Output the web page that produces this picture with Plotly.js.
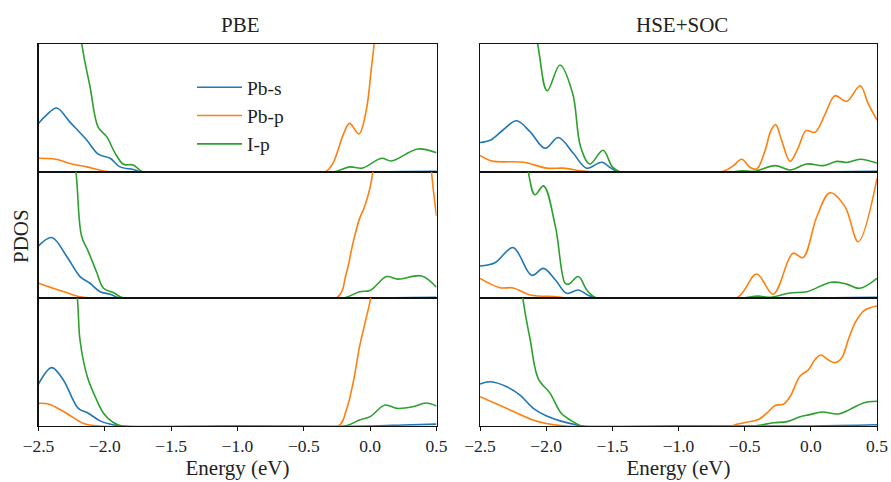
<!DOCTYPE html>
<html>
<head>
<meta charset="utf-8">
<script src="https://cdn.plot.ly/plotly-3.0.1.min.js"></script>
<style>html,body{margin:0;padding:0;background:#fff;}#chart{width:891px;height:482px;}</style>
</head>
<body>
<div id="chart"></div>
<script>
// ---------- data (energies in eV, PDOS in arbitrary units per panel) ----------
const columnTitles = ["PBE", "HSE+SOC"];
const seriesNames = ["Pb-s", "Pb-p", "I-p"];
const tickValues = [-2.5, -2.0, -1.5, -1.0, -0.5, 0.0, 0.5];
const tickLabels = ["\u22122.5", "\u22122.0", "\u22121.5", "\u22121.0", "\u22120.5", "0.0", "0.5"];

// PBE, top panel
const pbe1_s_E = [-2.5, -2.44, -2.363, -2.263, -2.137, -2.05, -1.96, -1.886, -1.786, -1.72, -1.0, 0.0, 0.3, 0.5];
const pbe1_s_V = [0.38, 0.445, 0.50, 0.39, 0.25, 0.14, 0.107, 0.04, 0.02, 0, 0, 0, 0.004, 0.006];
const pbe1_p_E = [-2.5, -2.37, -2.263, -2.137, -2.04, -1.94, -1.0, -0.34, -0.28, -0.2, -0.155, -0.085, -0.03, 0.01, 0.03, 0.08, 0.5];
const pbe1_p_V = [0.107, 0.10, 0.067, 0.04, 0.015, 0, 0, 0, 0.07, 0.30, 0.38, 0.297, 0.48, 0.82, 1.0, 1.6, 4.0];
const pbe1_g_E = [-2.5, -2.174, -2.112, -2.05, -1.986, -1.924, -1.86, -1.786, -1.71, -1.0, -0.28, -0.155, -0.06, 0.086, 0.16, 0.36, 0.5];
const pbe1_g_V = [4.0, 1.0, 0.67, 0.35, 0.276, 0.15, 0.06, 0.055, 0, 0, 0, 0.04, 0.03, 0.107, 0.086, 0.18, 0.15];

// PBE, middle panel
const pbe2_s_E = [-2.5, -2.40, -2.287, -2.187, -2.112, -2.036, -1.96, -1.885, -1.0, 0.0, 0.5];
const pbe2_s_V = [0.413, 0.48, 0.33, 0.17, 0.117, 0.05, 0.03, 0, 0, 0, 0.005];
const pbe2_p_E = [-2.5, -2.39, -2.29, -2.187, -2.1, -1.0, -0.253, -0.18, -0.13, -0.08, -0.042, 0.0, 0.02, 0.1, 0.3, 0.45, 0.463, 0.5];
const pbe2_p_V = [0.117, 0.077, 0.043, 0.01, 0, 0, 0, 0.196, 0.434, 0.63, 0.725, 0.88, 1.0, 1.6, 2.0, 1.3, 1.0, 0.65];
const pbe2_g_E = [-2.5, -2.217, -2.175, -2.125, -2.06, -2.01, -1.93, -1.86, -1.0, -0.2, -0.08, 0.0, 0.124, 0.21, 0.388, 0.5];
const pbe2_g_V = [4.0, 1.0, 0.49, 0.37, 0.2, 0.077, 0.04, 0, 0, 0, 0.05, 0.06, 0.17, 0.15, 0.175, 0.085];

// PBE, bottom panel
const pbe3_s_E = [-2.5, -2.40, -2.313, -2.2, -2.125, -2.036, -1.94, -1.87, -1.0, 0.0, 0.25, 0.5];
const pbe3_s_V = [0.328, 0.456, 0.36, 0.138, 0.1, 0.04, 0.01, 0, 0, 0, 0.008, 0.015];
const pbe3_p_E = [-2.5, -2.42, -2.29, -2.16, -2.04, -1.0, -0.24, -0.18, -0.13, -0.08, -0.04, 0.0, 0.05, 0.5];
const pbe3_p_V = [0.177, 0.17, 0.1, 0.02, 0, 0, 0, 0.125, 0.33, 0.62, 0.80, 0.98, 1.3, 3.0];
const pbe3_g_E = [-2.5, -2.207, -2.187, -2.132, -2.06, -2.01, -1.94, -1.87, -1.0, -0.19, -0.08, 0.0, 0.111, 0.2, 0.32, 0.42, 0.5];
const pbe3_g_V = [4.0, 1.0, 0.67, 0.385, 0.2, 0.1, 0.03, 0, 0, 0, 0.047, 0.073, 0.164, 0.138, 0.15, 0.18, 0.157];

// HSE+SOC, top panel
const hse1_s_E = [-2.5, -2.42, -2.324, -2.224, -2.122, -2.009, -1.908, -1.795, -1.694, -1.58, -1.51, -1.455, -1.0, 0.0, 0.5];
const hse1_s_V = [0.23, 0.25, 0.33, 0.40, 0.315, 0.185, 0.27, 0.146, 0.03, 0.076, 0.03, 0, 0, 0, 0.005];
const hse1_p_E = [-2.5, -2.41, -2.17, -1.996, -1.87, -1.74, -1.65, -1.0, -0.66, -0.585, -0.522, -0.459, -0.409, -0.346, -0.303, -0.266, -0.22, -0.157, -0.094, -0.036, 0.032, 0.108, 0.183, 0.271, 0.372, 0.435, 0.5];
const hse1_p_V = [0.13, 0.086, 0.076, 0.03, 0.03, 0.01, 0, 0, 0.005, 0.05, 0.10, 0.036, 0.023, 0.167, 0.32, 0.37, 0.245, 0.083, 0.193, 0.323, 0.31, 0.453, 0.596, 0.552, 0.674, 0.53, 0.406];
const hse1_g_E = [-2.5, -2.064, -1.992, -1.896, -1.8, -1.74, -1.67, -1.57, -1.50, -1.44, -1.0, -0.6, -0.52, -0.43, -0.27, -0.157, -0.03, 0.095, 0.196, 0.28, 0.372, 0.5];
const hse1_g_V = [4.0, 1.0, 0.635, 0.836, 0.615, 0.198, 0.0625, 0.17, 0.04, 0, 0, 0, 0.01, 0.005, 0.05, 0.016, 0.0625, 0.05, 0.083, 0.075, 0.10, 0.07];

// HSE+SOC, middle panel
const hse2_s_E = [-2.5, -2.387, -2.25, -2.11, -2.02, -1.93, -1.845, -1.757, -1.68, -1.62, -1.0, 0.0, 0.5];
const hse2_s_V = [0.254, 0.28, 0.40, 0.18, 0.235, 0.143, 0.037, 0.063, 0.02, 0, 0, 0, 0.005];
const hse2_p_E = [-2.5, -2.35, -2.25, -2.12, -1.92, -1.85, -1.0, -0.56, -0.41, -0.285, -0.135, -0.06, 0.045, 0.145, 0.258, 0.358, 0.5];
const hse2_p_V = [0.156, 0.082, 0.08, 0.024, 0.01, 0, 0, 0, 0.19, 0.03, 0.355, 0.32, 0.645, 0.835, 0.725, 0.447, 0.95];
const hse2_g_E = [-2.5, -2.135, -2.085, -2.02, -1.93, -1.857, -1.83, -1.757, -1.69, -1.62, -1.0, -0.53, -0.4, -0.3, -0.16, -0.03, 0.155, 0.27, 0.37, 0.5];
const hse2_g_V = [4.0, 1.0, 0.82, 0.89, 0.566, 0.117, 0.11, 0.17, 0.06, 0, 0, 0, 0.015, 0.005, 0.04, 0.05, 0.125, 0.11, 0.077, 0.156];

// HSE+SOC, bottom panel
const hse3_s_E = [-2.5, -2.42, -2.298, -2.198, -2.097, -1.996, -1.895, -1.79, -1.74, -1.0, 0.0, 0.5];
const hse3_s_V = [0.328, 0.346, 0.307, 0.242, 0.138, 0.078, 0.04, 0.013, 0, 0, 0, 0.01];
const hse3_p_E = [-2.5, -2.3, -2.1, -2.0, -1.85, -1.0, -0.6, -0.56, -0.484, -0.396, -0.333, -0.27, -0.207, -0.157, -0.081, -0.018, 0.032, 0.075, 0.133, 0.183, 0.234, 0.284, 0.335, 0.398, 0.448, 0.5];
const hse3_p_V = [0.229, 0.138, 0.047, 0.02, 0, 0, 0, 0.013, 0.03, 0.05, 0.10, 0.16, 0.17, 0.23, 0.39, 0.44, 0.52, 0.555, 0.515, 0.495, 0.534, 0.677, 0.807, 0.898, 0.924, 0.9375];
const hse3_g_E = [-2.5, -2.177, -2.12, -2.06, -1.97, -1.886, -1.79, -1.73, -1.0, -0.45, -0.39, -0.283, -0.18, -0.081, -0.006, 0.083, 0.208, 0.296, 0.397, 0.5];
const hse3_g_V = [4.0, 1.0, 0.67, 0.37, 0.255, 0.1, 0.03, 0, 0, 0, 0.005, 0.026, 0.034, 0.073, 0.089, 0.109, 0.094, 0.13, 0.18, 0.193];

// ---------- figure ----------
const colors = ["#1f77b4", "#ff7f0e", "#2ca02c"];
const FONT = '"Liberation Serif", "Times New Roman", Times, serif';

const panels = [
  [0, 0, [pbe1_s_E, pbe1_s_V], [pbe1_p_E, pbe1_p_V], [pbe1_g_E, pbe1_g_V]],
  [0, 1, [pbe2_s_E, pbe2_s_V], [pbe2_p_E, pbe2_p_V], [pbe2_g_E, pbe2_g_V]],
  [0, 2, [pbe3_s_E, pbe3_s_V], [pbe3_p_E, pbe3_p_V], [pbe3_g_E, pbe3_g_V]],
  [1, 0, [hse1_s_E, hse1_s_V], [hse1_p_E, hse1_p_V], [hse1_g_E, hse1_g_V]],
  [1, 1, [hse2_s_E, hse2_s_V], [hse2_p_E, hse2_p_V], [hse2_g_E, hse2_g_V]],
  [1, 2, [hse3_s_E, hse3_s_V], [hse3_p_E, hse3_p_V], [hse3_g_E, hse3_g_V]]
];

const W = 891, H = 482;
const colDom = [[38.5 / W, 436.5 / W], [480 / W, 877 / W]];
const rowPx = [[44, 172], [172, 298], [298, 426]];
const rowDom = rowPx.map(r => [1 - r[1] / H, 1 - r[0] / H]);

const traces = [];
const layout = {
  width: W, height: H,
  margin: {l: 0, r: 0, t: 0, b: 0},
  paper_bgcolor: "#fff", plot_bgcolor: "#fff",
  font: {family: FONT, color: "#222", size: 17},
  showlegend: true,
  legend: {
    x: 192 / W, y: 1 - 68 / H, xanchor: "left", yanchor: "top",
    bgcolor: "rgba(0,0,0,0)", borderwidth: 0,
    font: {family: FONT, size: 19.5, color: "#222"},
    itemwidth: 45,
    tracegroupgap: 0
  },
  annotations: [],
  shapes: []
};

panels.forEach((pn, i) => {
  const [col, row] = pn;
  const idx = i + 1;
  const xa = "x" + (idx === 1 ? "" : idx);
  const ya = "y" + (idx === 1 ? "" : idx);
  const xk = "xaxis" + (idx === 1 ? "" : idx);
  const yk = "yaxis" + (idx === 1 ? "" : idx);
  const bottom = row === 2;
  for (let k = 0; k < 3; k++) {
    traces.push({
      type: "scatter", mode: "lines",
      x: pn[2 + k][0], y: pn[2 + k][1],
      xaxis: xa, yaxis: ya,
      name: seriesNames[k],
      showlegend: i === 0,
      line: {color: colors[k], width: 1.6, shape: "spline", smoothing: 1},
      hoverinfo: "skip"
    });
  }
  layout[xk] = {
    domain: colDom[col], anchor: ya, range: [-2.5, 0.5],
    showgrid: false, zeroline: false,
    showline: true, mirror: true, linecolor: "#111", linewidth: 1.3,
    ticks: bottom ? "outside" : "", ticklen: 4, tickwidth: 1, tickcolor: "#111",
    tickmode: "array", tickvals: tickValues, ticktext: tickLabels,
    showticklabels: bottom,
    tickfont: {family: FONT, size: 17.5, color: "#222"},
    title: bottom ? {text: "Energy (eV)", font: {family: FONT, size: 21, color: "#222"}, standoff: 5} : {text: ""},
    fixedrange: true
  };
  layout[yk] = {
    domain: rowDom[row], anchor: xa, range: [0, 1],
    showgrid: false, zeroline: false,
    showline: true, mirror: true, linecolor: "#111", linewidth: 1.3,
    ticks: "", showticklabels: false, fixedrange: true
  };
});

columnTitles.forEach((t, c) => {
  layout.annotations.push({
    text: t, xref: "paper", yref: "paper",
    x: (colDom[c][0] + colDom[c][1]) / 2 + 3 / W, y: 1 - 25 / H,
    xanchor: "center", yanchor: "middle", showarrow: false,
    font: {family: FONT, size: 21, color: "#222"}
  });
});
layout.annotations.push({
  text: "PDOS", xref: "paper", yref: "paper",
  x: 21 / W, y: 1 - 236 / H, xanchor: "center", yanchor: "middle",
  textangle: -90, showarrow: false,
  font: {family: FONT, size: 21, color: "#222"}
});

Plotly.newPlot("chart", traces, layout, {staticPlot: true, displayModeBar: false});
</script>
</body>
</html>
